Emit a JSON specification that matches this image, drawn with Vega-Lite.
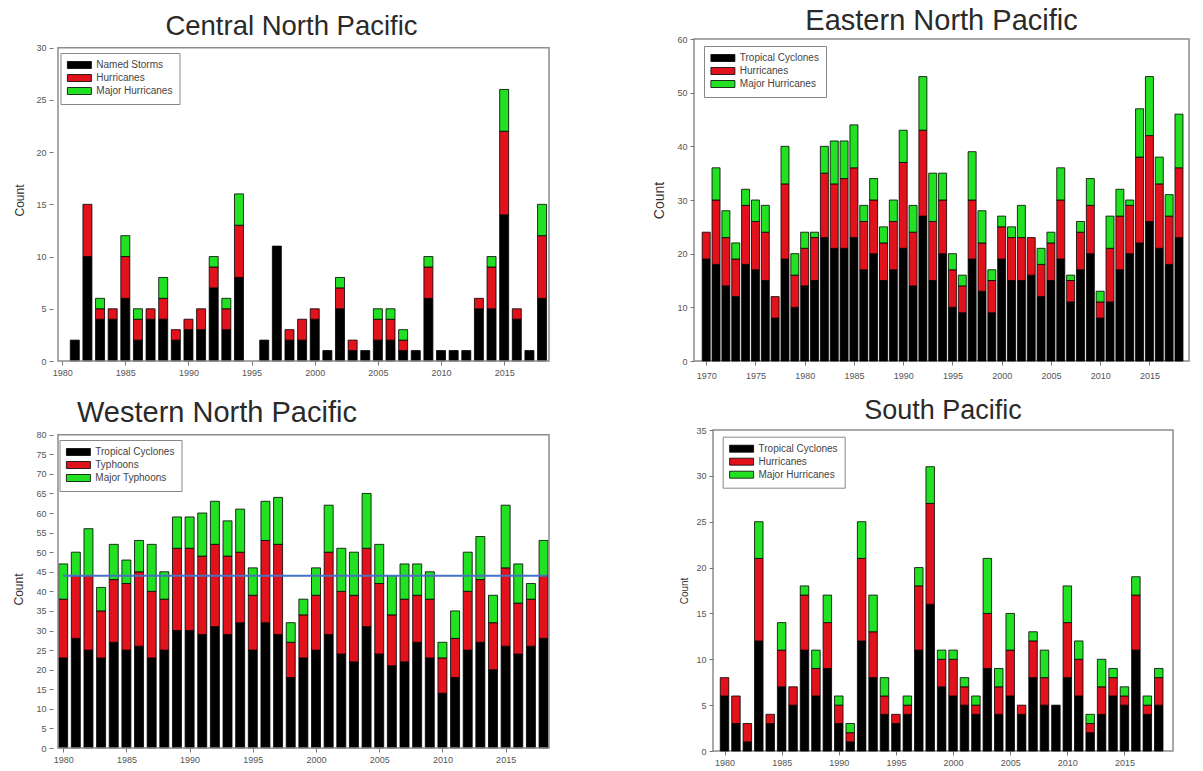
{
  "$schema": "https://vega.github.io/schema/vega-lite/v6.json",
  "background": "white",
  "padding": {"left": 12, "top": 6, "right": 5, "bottom": 3},
  "datasets": {
    "cnp": [
      {"year":1981,"type":"Named Storms","k":1,"n":2},
      {"year":1982,"type":"Named Storms","k":1,"n":10},{"year":1982,"type":"Hurricanes","k":2,"n":5},
      {"year":1983,"type":"Named Storms","k":1,"n":4},{"year":1983,"type":"Hurricanes","k":2,"n":1},{"year":1983,"type":"Major Hurricanes","k":3,"n":1},
      {"year":1984,"type":"Named Storms","k":1,"n":4},{"year":1984,"type":"Hurricanes","k":2,"n":1},
      {"year":1985,"type":"Named Storms","k":1,"n":6},{"year":1985,"type":"Hurricanes","k":2,"n":4},{"year":1985,"type":"Major Hurricanes","k":3,"n":2},
      {"year":1986,"type":"Named Storms","k":1,"n":2},{"year":1986,"type":"Hurricanes","k":2,"n":2},{"year":1986,"type":"Major Hurricanes","k":3,"n":1},
      {"year":1987,"type":"Named Storms","k":1,"n":4},{"year":1987,"type":"Hurricanes","k":2,"n":1},
      {"year":1988,"type":"Named Storms","k":1,"n":4},{"year":1988,"type":"Hurricanes","k":2,"n":2},{"year":1988,"type":"Major Hurricanes","k":3,"n":2},
      {"year":1989,"type":"Named Storms","k":1,"n":2},{"year":1989,"type":"Hurricanes","k":2,"n":1},
      {"year":1990,"type":"Named Storms","k":1,"n":3},{"year":1990,"type":"Hurricanes","k":2,"n":1},
      {"year":1991,"type":"Named Storms","k":1,"n":3},{"year":1991,"type":"Hurricanes","k":2,"n":2},
      {"year":1992,"type":"Named Storms","k":1,"n":7},{"year":1992,"type":"Hurricanes","k":2,"n":2},{"year":1992,"type":"Major Hurricanes","k":3,"n":1},
      {"year":1993,"type":"Named Storms","k":1,"n":3},{"year":1993,"type":"Hurricanes","k":2,"n":2},{"year":1993,"type":"Major Hurricanes","k":3,"n":1},
      {"year":1994,"type":"Named Storms","k":1,"n":8},{"year":1994,"type":"Hurricanes","k":2,"n":5},{"year":1994,"type":"Major Hurricanes","k":3,"n":3},
      {"year":1996,"type":"Named Storms","k":1,"n":2},
      {"year":1997,"type":"Named Storms","k":1,"n":11},
      {"year":1998,"type":"Named Storms","k":1,"n":2},{"year":1998,"type":"Hurricanes","k":2,"n":1},
      {"year":1999,"type":"Named Storms","k":1,"n":2},{"year":1999,"type":"Hurricanes","k":2,"n":2},
      {"year":2000,"type":"Named Storms","k":1,"n":4},{"year":2000,"type":"Hurricanes","k":2,"n":1},
      {"year":2001,"type":"Named Storms","k":1,"n":1},
      {"year":2002,"type":"Named Storms","k":1,"n":5},{"year":2002,"type":"Hurricanes","k":2,"n":2},{"year":2002,"type":"Major Hurricanes","k":3,"n":1},
      {"year":2003,"type":"Named Storms","k":1,"n":1},{"year":2003,"type":"Hurricanes","k":2,"n":1},
      {"year":2004,"type":"Named Storms","k":1,"n":1},
      {"year":2005,"type":"Named Storms","k":1,"n":2},{"year":2005,"type":"Hurricanes","k":2,"n":2},{"year":2005,"type":"Major Hurricanes","k":3,"n":1},
      {"year":2006,"type":"Named Storms","k":1,"n":2},{"year":2006,"type":"Hurricanes","k":2,"n":2},{"year":2006,"type":"Major Hurricanes","k":3,"n":1},
      {"year":2007,"type":"Named Storms","k":1,"n":1},{"year":2007,"type":"Hurricanes","k":2,"n":1},{"year":2007,"type":"Major Hurricanes","k":3,"n":1},
      {"year":2008,"type":"Named Storms","k":1,"n":1},
      {"year":2009,"type":"Named Storms","k":1,"n":6},{"year":2009,"type":"Hurricanes","k":2,"n":3},{"year":2009,"type":"Major Hurricanes","k":3,"n":1},
      {"year":2010,"type":"Named Storms","k":1,"n":1},
      {"year":2011,"type":"Named Storms","k":1,"n":1},
      {"year":2012,"type":"Named Storms","k":1,"n":1},
      {"year":2013,"type":"Named Storms","k":1,"n":5},{"year":2013,"type":"Hurricanes","k":2,"n":1},
      {"year":2014,"type":"Named Storms","k":1,"n":5},{"year":2014,"type":"Hurricanes","k":2,"n":4},{"year":2014,"type":"Major Hurricanes","k":3,"n":1},
      {"year":2015,"type":"Named Storms","k":1,"n":14},{"year":2015,"type":"Hurricanes","k":2,"n":8},{"year":2015,"type":"Major Hurricanes","k":3,"n":4},
      {"year":2016,"type":"Named Storms","k":1,"n":4},{"year":2016,"type":"Hurricanes","k":2,"n":1},
      {"year":2017,"type":"Named Storms","k":1,"n":1},
      {"year":2018,"type":"Named Storms","k":1,"n":6},{"year":2018,"type":"Hurricanes","k":2,"n":6},{"year":2018,"type":"Major Hurricanes","k":3,"n":3}
    ],
    "enp": [
      {"year":1970,"type":"Tropical Cyclones","k":1,"n":19},{"year":1970,"type":"Hurricanes","k":2,"n":5},
      {"year":1971,"type":"Tropical Cyclones","k":1,"n":18},{"year":1971,"type":"Hurricanes","k":2,"n":12},{"year":1971,"type":"Major Hurricanes","k":3,"n":6},
      {"year":1972,"type":"Tropical Cyclones","k":1,"n":14},{"year":1972,"type":"Hurricanes","k":2,"n":9},{"year":1972,"type":"Major Hurricanes","k":3,"n":5},
      {"year":1973,"type":"Tropical Cyclones","k":1,"n":12},{"year":1973,"type":"Hurricanes","k":2,"n":7},{"year":1973,"type":"Major Hurricanes","k":3,"n":3},
      {"year":1974,"type":"Tropical Cyclones","k":1,"n":18},{"year":1974,"type":"Hurricanes","k":2,"n":11},{"year":1974,"type":"Major Hurricanes","k":3,"n":3},
      {"year":1975,"type":"Tropical Cyclones","k":1,"n":17},{"year":1975,"type":"Hurricanes","k":2,"n":9},{"year":1975,"type":"Major Hurricanes","k":3,"n":4},
      {"year":1976,"type":"Tropical Cyclones","k":1,"n":15},{"year":1976,"type":"Hurricanes","k":2,"n":9},{"year":1976,"type":"Major Hurricanes","k":3,"n":5},
      {"year":1977,"type":"Tropical Cyclones","k":1,"n":8},{"year":1977,"type":"Hurricanes","k":2,"n":4},
      {"year":1978,"type":"Tropical Cyclones","k":1,"n":19},{"year":1978,"type":"Hurricanes","k":2,"n":14},{"year":1978,"type":"Major Hurricanes","k":3,"n":7},
      {"year":1979,"type":"Tropical Cyclones","k":1,"n":10},{"year":1979,"type":"Hurricanes","k":2,"n":6},{"year":1979,"type":"Major Hurricanes","k":3,"n":4},
      {"year":1980,"type":"Tropical Cyclones","k":1,"n":14},{"year":1980,"type":"Hurricanes","k":2,"n":7},{"year":1980,"type":"Major Hurricanes","k":3,"n":3},
      {"year":1981,"type":"Tropical Cyclones","k":1,"n":15},{"year":1981,"type":"Hurricanes","k":2,"n":8},{"year":1981,"type":"Major Hurricanes","k":3,"n":1},
      {"year":1982,"type":"Tropical Cyclones","k":1,"n":23},{"year":1982,"type":"Hurricanes","k":2,"n":12},{"year":1982,"type":"Major Hurricanes","k":3,"n":5},
      {"year":1983,"type":"Tropical Cyclones","k":1,"n":21},{"year":1983,"type":"Hurricanes","k":2,"n":12},{"year":1983,"type":"Major Hurricanes","k":3,"n":8},
      {"year":1984,"type":"Tropical Cyclones","k":1,"n":21},{"year":1984,"type":"Hurricanes","k":2,"n":13},{"year":1984,"type":"Major Hurricanes","k":3,"n":7},
      {"year":1985,"type":"Tropical Cyclones","k":1,"n":23},{"year":1985,"type":"Hurricanes","k":2,"n":13},{"year":1985,"type":"Major Hurricanes","k":3,"n":8},
      {"year":1986,"type":"Tropical Cyclones","k":1,"n":17},{"year":1986,"type":"Hurricanes","k":2,"n":9},{"year":1986,"type":"Major Hurricanes","k":3,"n":3},
      {"year":1987,"type":"Tropical Cyclones","k":1,"n":20},{"year":1987,"type":"Hurricanes","k":2,"n":10},{"year":1987,"type":"Major Hurricanes","k":3,"n":4},
      {"year":1988,"type":"Tropical Cyclones","k":1,"n":15},{"year":1988,"type":"Hurricanes","k":2,"n":7},{"year":1988,"type":"Major Hurricanes","k":3,"n":3},
      {"year":1989,"type":"Tropical Cyclones","k":1,"n":17},{"year":1989,"type":"Hurricanes","k":2,"n":9},{"year":1989,"type":"Major Hurricanes","k":3,"n":4},
      {"year":1990,"type":"Tropical Cyclones","k":1,"n":21},{"year":1990,"type":"Hurricanes","k":2,"n":16},{"year":1990,"type":"Major Hurricanes","k":3,"n":6},
      {"year":1991,"type":"Tropical Cyclones","k":1,"n":14},{"year":1991,"type":"Hurricanes","k":2,"n":10},{"year":1991,"type":"Major Hurricanes","k":3,"n":5},
      {"year":1992,"type":"Tropical Cyclones","k":1,"n":27},{"year":1992,"type":"Hurricanes","k":2,"n":16},{"year":1992,"type":"Major Hurricanes","k":3,"n":10},
      {"year":1993,"type":"Tropical Cyclones","k":1,"n":15},{"year":1993,"type":"Hurricanes","k":2,"n":11},{"year":1993,"type":"Major Hurricanes","k":3,"n":9},
      {"year":1994,"type":"Tropical Cyclones","k":1,"n":20},{"year":1994,"type":"Hurricanes","k":2,"n":10},{"year":1994,"type":"Major Hurricanes","k":3,"n":5},
      {"year":1995,"type":"Tropical Cyclones","k":1,"n":10},{"year":1995,"type":"Hurricanes","k":2,"n":7},{"year":1995,"type":"Major Hurricanes","k":3,"n":3},
      {"year":1996,"type":"Tropical Cyclones","k":1,"n":9},{"year":1996,"type":"Hurricanes","k":2,"n":5},{"year":1996,"type":"Major Hurricanes","k":3,"n":2},
      {"year":1997,"type":"Tropical Cyclones","k":1,"n":19},{"year":1997,"type":"Hurricanes","k":2,"n":11},{"year":1997,"type":"Major Hurricanes","k":3,"n":9},
      {"year":1998,"type":"Tropical Cyclones","k":1,"n":13},{"year":1998,"type":"Hurricanes","k":2,"n":9},{"year":1998,"type":"Major Hurricanes","k":3,"n":6},
      {"year":1999,"type":"Tropical Cyclones","k":1,"n":9},{"year":1999,"type":"Hurricanes","k":2,"n":6},{"year":1999,"type":"Major Hurricanes","k":3,"n":2},
      {"year":2000,"type":"Tropical Cyclones","k":1,"n":19},{"year":2000,"type":"Hurricanes","k":2,"n":6},{"year":2000,"type":"Major Hurricanes","k":3,"n":2},
      {"year":2001,"type":"Tropical Cyclones","k":1,"n":15},{"year":2001,"type":"Hurricanes","k":2,"n":8},{"year":2001,"type":"Major Hurricanes","k":3,"n":2},
      {"year":2002,"type":"Tropical Cyclones","k":1,"n":15},{"year":2002,"type":"Hurricanes","k":2,"n":8},{"year":2002,"type":"Major Hurricanes","k":3,"n":6},
      {"year":2003,"type":"Tropical Cyclones","k":1,"n":16},{"year":2003,"type":"Hurricanes","k":2,"n":7},
      {"year":2004,"type":"Tropical Cyclones","k":1,"n":12},{"year":2004,"type":"Hurricanes","k":2,"n":6},{"year":2004,"type":"Major Hurricanes","k":3,"n":3},
      {"year":2005,"type":"Tropical Cyclones","k":1,"n":15},{"year":2005,"type":"Hurricanes","k":2,"n":7},{"year":2005,"type":"Major Hurricanes","k":3,"n":2},
      {"year":2006,"type":"Tropical Cyclones","k":1,"n":19},{"year":2006,"type":"Hurricanes","k":2,"n":11},{"year":2006,"type":"Major Hurricanes","k":3,"n":6},
      {"year":2007,"type":"Tropical Cyclones","k":1,"n":11},{"year":2007,"type":"Hurricanes","k":2,"n":4},{"year":2007,"type":"Major Hurricanes","k":3,"n":1},
      {"year":2008,"type":"Tropical Cyclones","k":1,"n":17},{"year":2008,"type":"Hurricanes","k":2,"n":7},{"year":2008,"type":"Major Hurricanes","k":3,"n":2},
      {"year":2009,"type":"Tropical Cyclones","k":1,"n":20},{"year":2009,"type":"Hurricanes","k":2,"n":9},{"year":2009,"type":"Major Hurricanes","k":3,"n":5},
      {"year":2010,"type":"Tropical Cyclones","k":1,"n":8},{"year":2010,"type":"Hurricanes","k":2,"n":3},{"year":2010,"type":"Major Hurricanes","k":3,"n":2},
      {"year":2011,"type":"Tropical Cyclones","k":1,"n":11},{"year":2011,"type":"Hurricanes","k":2,"n":10},{"year":2011,"type":"Major Hurricanes","k":3,"n":6},
      {"year":2012,"type":"Tropical Cyclones","k":1,"n":17},{"year":2012,"type":"Hurricanes","k":2,"n":10},{"year":2012,"type":"Major Hurricanes","k":3,"n":5},
      {"year":2013,"type":"Tropical Cyclones","k":1,"n":20},{"year":2013,"type":"Hurricanes","k":2,"n":9},{"year":2013,"type":"Major Hurricanes","k":3,"n":1},
      {"year":2014,"type":"Tropical Cyclones","k":1,"n":22},{"year":2014,"type":"Hurricanes","k":2,"n":16},{"year":2014,"type":"Major Hurricanes","k":3,"n":9},
      {"year":2015,"type":"Tropical Cyclones","k":1,"n":26},{"year":2015,"type":"Hurricanes","k":2,"n":16},{"year":2015,"type":"Major Hurricanes","k":3,"n":11},
      {"year":2016,"type":"Tropical Cyclones","k":1,"n":21},{"year":2016,"type":"Hurricanes","k":2,"n":12},{"year":2016,"type":"Major Hurricanes","k":3,"n":5},
      {"year":2017,"type":"Tropical Cyclones","k":1,"n":18},{"year":2017,"type":"Hurricanes","k":2,"n":9},{"year":2017,"type":"Major Hurricanes","k":3,"n":4},
      {"year":2018,"type":"Tropical Cyclones","k":1,"n":23},{"year":2018,"type":"Hurricanes","k":2,"n":13},{"year":2018,"type":"Major Hurricanes","k":3,"n":10}
    ],
    "wnp": [
      {"year":1980,"type":"Tropical Cyclones","k":1,"n":23},{"year":1980,"type":"Typhoons","k":2,"n":15},{"year":1980,"type":"Major Typhoons","k":3,"n":9},
      {"year":1981,"type":"Tropical Cyclones","k":1,"n":28},{"year":1981,"type":"Typhoons","k":2,"n":16},{"year":1981,"type":"Major Typhoons","k":3,"n":6},
      {"year":1982,"type":"Tropical Cyclones","k":1,"n":25},{"year":1982,"type":"Typhoons","k":2,"n":19},{"year":1982,"type":"Major Typhoons","k":3,"n":12},
      {"year":1983,"type":"Tropical Cyclones","k":1,"n":23},{"year":1983,"type":"Typhoons","k":2,"n":12},{"year":1983,"type":"Major Typhoons","k":3,"n":6},
      {"year":1984,"type":"Tropical Cyclones","k":1,"n":27},{"year":1984,"type":"Typhoons","k":2,"n":16},{"year":1984,"type":"Major Typhoons","k":3,"n":9},
      {"year":1985,"type":"Tropical Cyclones","k":1,"n":25},{"year":1985,"type":"Typhoons","k":2,"n":17},{"year":1985,"type":"Major Typhoons","k":3,"n":6},
      {"year":1986,"type":"Tropical Cyclones","k":1,"n":26},{"year":1986,"type":"Typhoons","k":2,"n":19},{"year":1986,"type":"Major Typhoons","k":3,"n":8},
      {"year":1987,"type":"Tropical Cyclones","k":1,"n":23},{"year":1987,"type":"Typhoons","k":2,"n":17},{"year":1987,"type":"Major Typhoons","k":3,"n":12},
      {"year":1988,"type":"Tropical Cyclones","k":1,"n":25},{"year":1988,"type":"Typhoons","k":2,"n":13},{"year":1988,"type":"Major Typhoons","k":3,"n":7},
      {"year":1989,"type":"Tropical Cyclones","k":1,"n":30},{"year":1989,"type":"Typhoons","k":2,"n":21},{"year":1989,"type":"Major Typhoons","k":3,"n":8},
      {"year":1990,"type":"Tropical Cyclones","k":1,"n":30},{"year":1990,"type":"Typhoons","k":2,"n":21},{"year":1990,"type":"Major Typhoons","k":3,"n":8},
      {"year":1991,"type":"Tropical Cyclones","k":1,"n":29},{"year":1991,"type":"Typhoons","k":2,"n":20},{"year":1991,"type":"Major Typhoons","k":3,"n":11},
      {"year":1992,"type":"Tropical Cyclones","k":1,"n":31},{"year":1992,"type":"Typhoons","k":2,"n":21},{"year":1992,"type":"Major Typhoons","k":3,"n":11},
      {"year":1993,"type":"Tropical Cyclones","k":1,"n":29},{"year":1993,"type":"Typhoons","k":2,"n":20},{"year":1993,"type":"Major Typhoons","k":3,"n":9},
      {"year":1994,"type":"Tropical Cyclones","k":1,"n":32},{"year":1994,"type":"Typhoons","k":2,"n":18},{"year":1994,"type":"Major Typhoons","k":3,"n":11},
      {"year":1995,"type":"Tropical Cyclones","k":1,"n":25},{"year":1995,"type":"Typhoons","k":2,"n":14},{"year":1995,"type":"Major Typhoons","k":3,"n":7},
      {"year":1996,"type":"Tropical Cyclones","k":1,"n":32},{"year":1996,"type":"Typhoons","k":2,"n":21},{"year":1996,"type":"Major Typhoons","k":3,"n":10},
      {"year":1997,"type":"Tropical Cyclones","k":1,"n":29},{"year":1997,"type":"Typhoons","k":2,"n":23},{"year":1997,"type":"Major Typhoons","k":3,"n":12},
      {"year":1998,"type":"Tropical Cyclones","k":1,"n":18},{"year":1998,"type":"Typhoons","k":2,"n":9},{"year":1998,"type":"Major Typhoons","k":3,"n":5},
      {"year":1999,"type":"Tropical Cyclones","k":1,"n":23},{"year":1999,"type":"Typhoons","k":2,"n":11},{"year":1999,"type":"Major Typhoons","k":3,"n":4},
      {"year":2000,"type":"Tropical Cyclones","k":1,"n":25},{"year":2000,"type":"Typhoons","k":2,"n":14},{"year":2000,"type":"Major Typhoons","k":3,"n":7},
      {"year":2001,"type":"Tropical Cyclones","k":1,"n":29},{"year":2001,"type":"Typhoons","k":2,"n":21},{"year":2001,"type":"Major Typhoons","k":3,"n":12},
      {"year":2002,"type":"Tropical Cyclones","k":1,"n":24},{"year":2002,"type":"Typhoons","k":2,"n":16},{"year":2002,"type":"Major Typhoons","k":3,"n":11},
      {"year":2003,"type":"Tropical Cyclones","k":1,"n":22},{"year":2003,"type":"Typhoons","k":2,"n":17},{"year":2003,"type":"Major Typhoons","k":3,"n":11},
      {"year":2004,"type":"Tropical Cyclones","k":1,"n":31},{"year":2004,"type":"Typhoons","k":2,"n":20},{"year":2004,"type":"Major Typhoons","k":3,"n":14},
      {"year":2005,"type":"Tropical Cyclones","k":1,"n":24},{"year":2005,"type":"Typhoons","k":2,"n":18},{"year":2005,"type":"Major Typhoons","k":3,"n":10},
      {"year":2006,"type":"Tropical Cyclones","k":1,"n":21},{"year":2006,"type":"Typhoons","k":2,"n":13},{"year":2006,"type":"Major Typhoons","k":3,"n":10},
      {"year":2007,"type":"Tropical Cyclones","k":1,"n":22},{"year":2007,"type":"Typhoons","k":2,"n":16},{"year":2007,"type":"Major Typhoons","k":3,"n":9},
      {"year":2008,"type":"Tropical Cyclones","k":1,"n":27},{"year":2008,"type":"Typhoons","k":2,"n":12},{"year":2008,"type":"Major Typhoons","k":3,"n":8},
      {"year":2009,"type":"Tropical Cyclones","k":1,"n":23},{"year":2009,"type":"Typhoons","k":2,"n":15},{"year":2009,"type":"Major Typhoons","k":3,"n":7},
      {"year":2010,"type":"Tropical Cyclones","k":1,"n":14},{"year":2010,"type":"Typhoons","k":2,"n":9},{"year":2010,"type":"Major Typhoons","k":3,"n":4},
      {"year":2011,"type":"Tropical Cyclones","k":1,"n":18},{"year":2011,"type":"Typhoons","k":2,"n":10},{"year":2011,"type":"Major Typhoons","k":3,"n":7},
      {"year":2012,"type":"Tropical Cyclones","k":1,"n":25},{"year":2012,"type":"Typhoons","k":2,"n":15},{"year":2012,"type":"Major Typhoons","k":3,"n":10},
      {"year":2013,"type":"Tropical Cyclones","k":1,"n":27},{"year":2013,"type":"Typhoons","k":2,"n":16},{"year":2013,"type":"Major Typhoons","k":3,"n":11},
      {"year":2014,"type":"Tropical Cyclones","k":1,"n":20},{"year":2014,"type":"Typhoons","k":2,"n":12},{"year":2014,"type":"Major Typhoons","k":3,"n":7},
      {"year":2015,"type":"Tropical Cyclones","k":1,"n":26},{"year":2015,"type":"Typhoons","k":2,"n":20},{"year":2015,"type":"Major Typhoons","k":3,"n":16},
      {"year":2016,"type":"Tropical Cyclones","k":1,"n":24},{"year":2016,"type":"Typhoons","k":2,"n":13},{"year":2016,"type":"Major Typhoons","k":3,"n":10},
      {"year":2017,"type":"Tropical Cyclones","k":1,"n":26},{"year":2017,"type":"Typhoons","k":2,"n":12},{"year":2017,"type":"Major Typhoons","k":3,"n":4},
      {"year":2018,"type":"Tropical Cyclones","k":1,"n":28},{"year":2018,"type":"Typhoons","k":2,"n":16},{"year":2018,"type":"Major Typhoons","k":3,"n":9}
    ],
    "wnpline": [{"from":1980,"to":2018.3,"level":44}],
    "sp": [
      {"year":1980,"type":"Tropical Cyclones","k":1,"n":6},{"year":1980,"type":"Hurricanes","k":2,"n":2},
      {"year":1981,"type":"Tropical Cyclones","k":1,"n":3},{"year":1981,"type":"Hurricanes","k":2,"n":3},
      {"year":1982,"type":"Tropical Cyclones","k":1,"n":1},{"year":1982,"type":"Hurricanes","k":2,"n":2},
      {"year":1983,"type":"Tropical Cyclones","k":1,"n":12},{"year":1983,"type":"Hurricanes","k":2,"n":9},{"year":1983,"type":"Major Hurricanes","k":3,"n":4},
      {"year":1984,"type":"Tropical Cyclones","k":1,"n":3},{"year":1984,"type":"Hurricanes","k":2,"n":1},
      {"year":1985,"type":"Tropical Cyclones","k":1,"n":7},{"year":1985,"type":"Hurricanes","k":2,"n":4},{"year":1985,"type":"Major Hurricanes","k":3,"n":3},
      {"year":1986,"type":"Tropical Cyclones","k":1,"n":5},{"year":1986,"type":"Hurricanes","k":2,"n":2},
      {"year":1987,"type":"Tropical Cyclones","k":1,"n":11},{"year":1987,"type":"Hurricanes","k":2,"n":6},{"year":1987,"type":"Major Hurricanes","k":3,"n":1},
      {"year":1988,"type":"Tropical Cyclones","k":1,"n":6},{"year":1988,"type":"Hurricanes","k":2,"n":3},{"year":1988,"type":"Major Hurricanes","k":3,"n":2},
      {"year":1989,"type":"Tropical Cyclones","k":1,"n":9},{"year":1989,"type":"Hurricanes","k":2,"n":5},{"year":1989,"type":"Major Hurricanes","k":3,"n":3},
      {"year":1990,"type":"Tropical Cyclones","k":1,"n":3},{"year":1990,"type":"Hurricanes","k":2,"n":2},{"year":1990,"type":"Major Hurricanes","k":3,"n":1},
      {"year":1991,"type":"Tropical Cyclones","k":1,"n":1},{"year":1991,"type":"Hurricanes","k":2,"n":1},{"year":1991,"type":"Major Hurricanes","k":3,"n":1},
      {"year":1992,"type":"Tropical Cyclones","k":1,"n":12},{"year":1992,"type":"Hurricanes","k":2,"n":9},{"year":1992,"type":"Major Hurricanes","k":3,"n":4},
      {"year":1993,"type":"Tropical Cyclones","k":1,"n":8},{"year":1993,"type":"Hurricanes","k":2,"n":5},{"year":1993,"type":"Major Hurricanes","k":3,"n":4},
      {"year":1994,"type":"Tropical Cyclones","k":1,"n":4},{"year":1994,"type":"Hurricanes","k":2,"n":2},{"year":1994,"type":"Major Hurricanes","k":3,"n":2},
      {"year":1995,"type":"Tropical Cyclones","k":1,"n":3},{"year":1995,"type":"Hurricanes","k":2,"n":1},
      {"year":1996,"type":"Tropical Cyclones","k":1,"n":4},{"year":1996,"type":"Hurricanes","k":2,"n":1},{"year":1996,"type":"Major Hurricanes","k":3,"n":1},
      {"year":1997,"type":"Tropical Cyclones","k":1,"n":11},{"year":1997,"type":"Hurricanes","k":2,"n":7},{"year":1997,"type":"Major Hurricanes","k":3,"n":2},
      {"year":1998,"type":"Tropical Cyclones","k":1,"n":16},{"year":1998,"type":"Hurricanes","k":2,"n":11},{"year":1998,"type":"Major Hurricanes","k":3,"n":4},
      {"year":1999,"type":"Tropical Cyclones","k":1,"n":7},{"year":1999,"type":"Hurricanes","k":2,"n":3},{"year":1999,"type":"Major Hurricanes","k":3,"n":1},
      {"year":2000,"type":"Tropical Cyclones","k":1,"n":6},{"year":2000,"type":"Hurricanes","k":2,"n":4},{"year":2000,"type":"Major Hurricanes","k":3,"n":1},
      {"year":2001,"type":"Tropical Cyclones","k":1,"n":5},{"year":2001,"type":"Hurricanes","k":2,"n":2},{"year":2001,"type":"Major Hurricanes","k":3,"n":1},
      {"year":2002,"type":"Tropical Cyclones","k":1,"n":4},{"year":2002,"type":"Hurricanes","k":2,"n":1},{"year":2002,"type":"Major Hurricanes","k":3,"n":1},
      {"year":2003,"type":"Tropical Cyclones","k":1,"n":9},{"year":2003,"type":"Hurricanes","k":2,"n":6},{"year":2003,"type":"Major Hurricanes","k":3,"n":6},
      {"year":2004,"type":"Tropical Cyclones","k":1,"n":4},{"year":2004,"type":"Hurricanes","k":2,"n":3},{"year":2004,"type":"Major Hurricanes","k":3,"n":2},
      {"year":2005,"type":"Tropical Cyclones","k":1,"n":6},{"year":2005,"type":"Hurricanes","k":2,"n":5},{"year":2005,"type":"Major Hurricanes","k":3,"n":4},
      {"year":2006,"type":"Tropical Cyclones","k":1,"n":4},{"year":2006,"type":"Hurricanes","k":2,"n":1},
      {"year":2007,"type":"Tropical Cyclones","k":1,"n":8},{"year":2007,"type":"Hurricanes","k":2,"n":4},{"year":2007,"type":"Major Hurricanes","k":3,"n":1},
      {"year":2008,"type":"Tropical Cyclones","k":1,"n":5},{"year":2008,"type":"Hurricanes","k":2,"n":3},{"year":2008,"type":"Major Hurricanes","k":3,"n":3},
      {"year":2009,"type":"Tropical Cyclones","k":1,"n":5},
      {"year":2010,"type":"Tropical Cyclones","k":1,"n":8},{"year":2010,"type":"Hurricanes","k":2,"n":6},{"year":2010,"type":"Major Hurricanes","k":3,"n":4},
      {"year":2011,"type":"Tropical Cyclones","k":1,"n":6},{"year":2011,"type":"Hurricanes","k":2,"n":4},{"year":2011,"type":"Major Hurricanes","k":3,"n":2},
      {"year":2012,"type":"Tropical Cyclones","k":1,"n":2},{"year":2012,"type":"Hurricanes","k":2,"n":1},{"year":2012,"type":"Major Hurricanes","k":3,"n":1},
      {"year":2013,"type":"Tropical Cyclones","k":1,"n":4},{"year":2013,"type":"Hurricanes","k":2,"n":3},{"year":2013,"type":"Major Hurricanes","k":3,"n":3},
      {"year":2014,"type":"Tropical Cyclones","k":1,"n":6},{"year":2014,"type":"Hurricanes","k":2,"n":2},{"year":2014,"type":"Major Hurricanes","k":3,"n":1},
      {"year":2015,"type":"Tropical Cyclones","k":1,"n":5},{"year":2015,"type":"Hurricanes","k":2,"n":1},{"year":2015,"type":"Major Hurricanes","k":3,"n":1},
      {"year":2016,"type":"Tropical Cyclones","k":1,"n":11},{"year":2016,"type":"Hurricanes","k":2,"n":6},{"year":2016,"type":"Major Hurricanes","k":3,"n":2},
      {"year":2017,"type":"Tropical Cyclones","k":1,"n":4},{"year":2017,"type":"Hurricanes","k":2,"n":1},{"year":2017,"type":"Major Hurricanes","k":3,"n":1},
      {"year":2018,"type":"Tropical Cyclones","k":1,"n":5},{"year":2018,"type":"Hurricanes","k":2,"n":3},{"year":2018,"type":"Major Hurricanes","k":3,"n":1}
    ]
  },
  "spacing": 15,
  "resolve": {"scale": {"color": "independent"}, "legend": {"color": "independent"}},
  "vconcat": [
    {
      "spacing": 98,
      "resolve": {"scale": {"color": "independent"}, "legend": {"color": "independent"}},
      "hconcat": [
        {
          "width": 501, "height": 322,
          "view": {"stroke": null},
          "title": {"text": "Central North Pacific", "offset": -1, "dx": -12, "frame": "group", "fontSize": 27.5},
          "layer": [
            {
              "data": {"name": "cnp"},
              "mark": {"type": "bar", "size": 9, "stroke": "#000000", "strokeWidth": 0.8},
              "encoding": {
                "x": {"field": "year", "type": "quantitative", "scale": {"domain": [1979.67, 2018.55], "nice": false, "zero": false},
                      "axis": {"values": [1980,1985,1990,1995,2000,2005,2010,2015], "format": "d", "title": null}},
                "y": {"field": "n", "type": "quantitative", "stack": "zero", "scale": {"domain": [0, 30.83], "nice": false},
                      "axis": {"values": [0,5,10,15,20,25,30], "title": "Count", "titleFontSize": 12, "titlePadding": 9}},
                "color": {"field": "type", "type": "nominal",
                          "scale": {"domain": ["Named Storms", "Hurricanes", "Major Hurricanes"], "range": ["#000000", "#e2121c", "#22e022"]},
                          "legend": {"orient": "none", "legendX": 7.5, "legendY": 14}},
                "order": {"field": "k", "type": "quantitative"}
              }
            },
            {
              "data": {"values": [{}]},
              "mark": {"type": "rect", "fill": null, "stroke": "#8c8c8c", "strokeWidth": 1.5},
              "encoding": {
                "x": {"datum": 1979.67, "type": "quantitative",
                      "axis": {"values": [1980,1985,1990,1995,2000,2005,2010,2015], "format": "d", "title": null}},
                "x2": {"datum": 2018.55},
                "y": {"datum": 0, "type": "quantitative",
                      "axis": {"values": [0,5,10,15,20,25,30], "title": "Count", "titleFontSize": 12, "titlePadding": 9}},
                "y2": {"datum": 30}
              }
            }
          ]
        },
        {
          "width": 495, "height": 322,
          "title": {"text": "Eastern North Pacific", "offset": -1, "dx": 0, "frame": "group", "fontSize": 29},
          "data": {"name": "enp"},
          "mark": {"type": "bar", "size": 8, "stroke": "#000000", "strokeWidth": 0.8},
          "encoding": {
            "x": {"field": "year", "type": "quantitative", "scale": {"domain": [1969.27, 2018.51], "nice": false, "zero": false},
                  "axis": {"values": [1970,1975,1980,1985,1990,1995,2000,2005,2010,2015], "format": "d", "title": null, "labelPadding": 6}},
            "y": {"field": "n", "type": "quantitative", "stack": "zero", "scale": {"domain": [0, 60], "nice": false},
                  "axis": {"values": [0,10,20,30,40,50,60], "title": "Count", "titleFontSize": 14, "titlePadding": 10}},
            "color": {"field": "type", "type": "nominal",
                      "scale": {"domain": ["Tropical Cyclones", "Hurricanes", "Major Hurricanes"], "range": ["#000000", "#e2121c", "#22e022"]},
                      "legend": {"orient": "none", "legendX": 10, "legendY": 7}},
            "order": {"field": "k", "type": "quantitative"}
          }
        }
      ]
    },
    {
      "spacing": 125,
      "resolve": {"scale": {"color": "independent"}, "legend": {"color": "independent"}},
      "hconcat": [
        {
          "width": 501, "height": 318,
          "view": {"stroke": null},
          "title": {"text": "Western North Pacific", "offset": 2, "anchor": "start", "dx": 24, "frame": "group", "fontSize": 29},
          "layer": [
            {
              "data": {"name": "wnp"},
              "mark": {"type": "bar", "size": 9, "stroke": "#000000", "strokeWidth": 0.8},
              "encoding": {
                "x": {"field": "year", "type": "quantitative", "scale": {"domain": [1979.59, 2018.43], "nice": false, "zero": false},
                      "axis": {"values": [1980,1985,1990,1995,2000,2005,2010,2015], "format": "d", "title": null}},
                "y": {"field": "n", "type": "quantitative", "stack": "zero", "scale": {"domain": [0, 81.2], "nice": false},
                      "axis": {"values": [0,5,10,15,20,25,30,35,40,45,50,55,60,65,70,75,80], "title": "Count", "titleFontSize": 12, "titlePadding": 10, "labelOverlap": false}},
                "color": {"field": "type", "type": "nominal",
                          "scale": {"domain": ["Tropical Cyclones", "Typhoons", "Major Typhoons"], "range": ["#000000", "#e2121c", "#22e022"]},
                          "legend": {"orient": "none", "legendX": 6.5, "legendY": 10}},
                "order": {"field": "k", "type": "quantitative"}
              }
            },
            {
              "data": {"name": "wnpline"},
              "mark": {"type": "rule", "color": "#4472c4", "strokeWidth": 2},
              "encoding": {
                "x": {"field": "from", "type": "quantitative",
                      "axis": {"values": [1980,1985,1990,1995,2000,2005,2010,2015], "format": "d", "title": null}},
                "x2": {"field": "to"},
                "y": {"field": "level", "type": "quantitative",
                      "axis": {"values": [0,5,10,15,20,25,30,35,40,45,50,55,60,65,70,75,80], "title": "Count", "titleFontSize": 12, "titlePadding": 10, "labelOverlap": false}}
              }
            },
            {
              "data": {"values": [{}]},
              "mark": {"type": "rect", "fill": null, "stroke": "#8c8c8c", "strokeWidth": 1.5},
              "encoding": {
                "x": {"datum": 1979.59, "type": "quantitative",
                      "axis": {"values": [1980,1985,1990,1995,2000,2005,2010,2015], "format": "d", "title": null}},
                "x2": {"datum": 2018.43},
                "y": {"datum": 0, "type": "quantitative",
                      "axis": {"values": [0,5,10,15,20,25,30,35,40,45,50,55,60,65,70,75,80], "title": "Count", "titleFontSize": 12, "titlePadding": 10, "labelOverlap": false}},
                "y2": {"datum": 80}
              }
            }
          ]
        },
        {
          "width": 460, "height": 321,
          "title": {"text": "South Pacific", "offset": 0.7, "dx": 0, "frame": "group", "fontSize": 27},
          "data": {"name": "sp"},
          "mark": {"type": "bar", "size": 8.5, "stroke": "#000000", "strokeWidth": 0.8},
          "encoding": {
            "x": {"field": "year", "type": "quantitative", "scale": {"domain": [1979.43, 2018.81], "nice": false, "zero": false},
                  "axis": {"values": [1980,1985,1990,1995,2000,2005,2010,2015], "format": "d", "title": null}},
            "y": {"field": "n", "type": "quantitative", "stack": "zero", "scale": {"domain": [0, 35], "nice": false},
                  "axis": {"values": [0,5,10,15,20,25,30,35], "title": "Count", "titleFontSize": 10, "titlePadding": 6}},
            "color": {"field": "type", "type": "nominal",
                      "scale": {"domain": ["Tropical Cyclones", "Hurricanes", "Major Hurricanes"], "range": ["#000000", "#e2121c", "#22e022"]},
                      "legend": {"orient": "none", "legendX": 9.7, "legendY": 6.7}},
            "order": {"field": "k", "type": "quantitative"}
          }
        }
      ]
    }
  ],
  "config": {
    "font": "Liberation Sans",
    "view": {"stroke": "#8c8c8c", "strokeWidth": 1.5},
    "axis": {"grid": false, "domain": false, "tickColor": "#777777", "tickSize": 4, "labelColor": "#555555", "labelFontSize": 9,
             "labelPadding": 3, "labelFlush": false, "labelOverlap": false, "titleFontWeight": "normal", "titleColor": "#333333"},
    "title": {"fontSize": 27, "fontWeight": "normal", "color": "#2a2a2a"},
    "legend": {"title": null, "direction": "vertical", "strokeColor": "#888888", "fillColor": "white", "padding": 7,
               "symbolType": "M-3.43,-1H3.43V1H-3.43Z", "symbolSize": 49, "symbolStrokeColor": "#000000", "symbolStrokeWidth": 0.8,
               "symbolOffset": 6.9, "labelOffset": 11.9, "labelFontSize": 10, "labelColor": "#444444", "rowPadding": 1}
  }
}
